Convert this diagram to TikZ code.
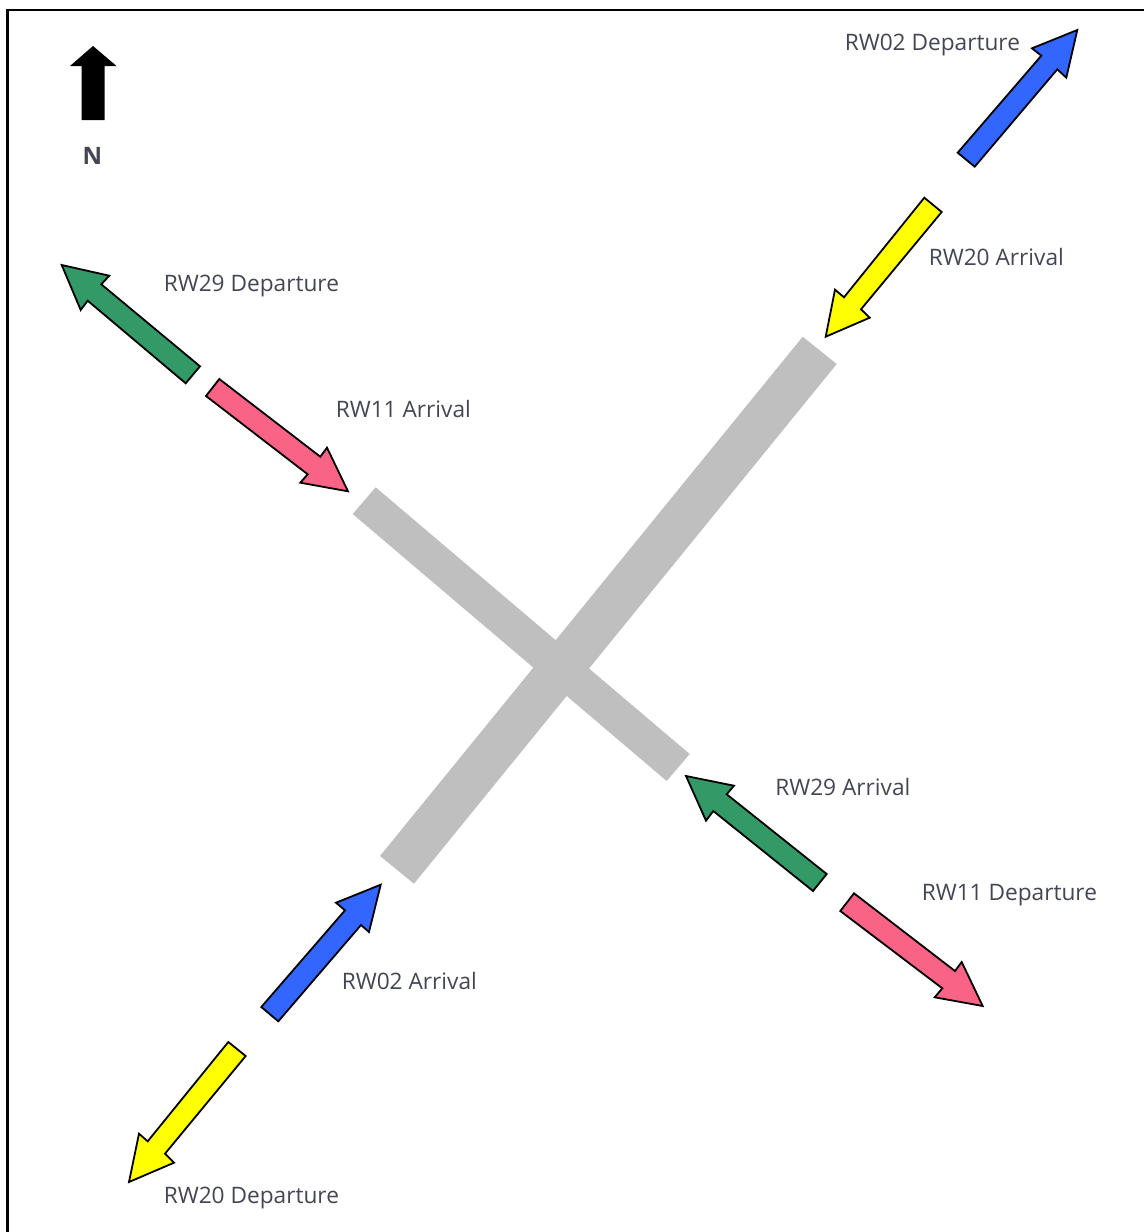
\documentclass[tikz,border=0pt]{standalone}
\usepackage{fontspec}
\setmainfont{Open Sans}
\definecolor{rwgrey}{HTML}{BFBFBF}
\definecolor{txt}{HTML}{444653}
\definecolor{rwblue}{HTML}{3366FF}
\definecolor{rwgreen}{HTML}{339966}
\definecolor{rwpink}{HTML}{F96385}
\definecolor{rwyellow}{HTML}{FFFF00}
\tikzset{
  flowarrow/.style={draw=black,line width=1.35pt,line join=miter,miter limit=10},
  runway/.style={fill=rwgrey,draw=none},
  lbl/.style={anchor=base west,inner sep=0pt,text=txt,font=\fontsize{17pt}{20pt}\selectfont},
}
\begin{document}
\begin{tikzpicture}[x=0.75pt,y=-0.75pt]
\useasboundingbox (0,0) rectangle (1144,1232);
\clip (0,0) rectangle (1144,1232);
\fill[white] (0,0) rectangle (1144,1232);
% frame
\draw[black,line width=1.6pt] (7.5,1240) -- (7.5,10) -- (1150,10);
% runways
\fill[runway] (802.7,336.7) -- (836.7,364) -- (414,883.7) -- (380,856) -- cycle;
\fill[runway] (375.7,487.3) -- (689.7,754) -- (666.7,781) -- (352.7,514) -- cycle;
% north arrow
\fill[black] (93,46) -- (116.5,66) -- (104.5,66) -- (104.5,120) -- (81.5,120) -- (81.5,66) -- (70,66) -- cycle;
\node[anchor=base,inner sep=0pt,text=txt,font=\fontsize{18pt}{20pt}\selectfont\bfseries] (north) at (92.5,164.5) {N};
% blue
\draw[flowarrow,fill=rwblue] (957.7,152.7) -- (1041.3,55.7) -- (1032,48.3) -- (1077.3,30) -- (1066.3,77.7) -- (1057.3,69.3) -- (974.7,166.7) -- cycle;
\draw[flowarrow,fill=rwblue] (261.3,1007) -- (345,910.3) -- (336,902.7) -- (380.7,884.7) -- (369,932) -- (361,925) -- (278.3,1021.3) -- cycle;
% yellow
\draw[flowarrow,fill=rwyellow] (924.3,197.7) -- (941.7,212) -- (861,309.3) -- (869.7,317.7) -- (825.7,336.7) -- (835,289.7) -- (844,297.3) -- cycle;
\draw[flowarrow,fill=rwyellow] (228.3,1042) -- (245.7,1056) -- (165,1153.7) -- (174,1162.7) -- (129,1182) -- (139,1133.7) -- (147.7,1141.3) -- cycle;
% green
\draw[flowarrow,fill=rwgreen] (61.7,265) -- (109.3,275.7) -- (101.3,284.3) -- (200,366.3) -- (185.7,383.3) -- (87.7,300.7) -- (80.7,310) -- cycle;
\draw[flowarrow,fill=rwgreen] (686,776) -- (734,785.7) -- (726.7,794.3) -- (826.7,874) -- (813,891) -- (713.3,811) -- (706,820.7) -- cycle;
% pink
\draw[flowarrow,fill=rwpink] (219.3,379) -- (320.3,456.7) -- (327,447.7) -- (348,491.3) -- (300.3,482.7) -- (307.7,474.3) -- (206,396) -- cycle;
\draw[flowarrow,fill=rwpink] (854,893.3) -- (955,971) -- (961.7,962) -- (982.7,1006) -- (934.7,997.3) -- (942.3,988.3) -- (840.3,911) -- cycle;
% labels
\node[lbl] (l1) at (844.5,50) {RW02 Departure};
\node[lbl] (l2) at (928.5,265) {RW20 Arrival};
\node[lbl] (l3) at (163.5,291) {RW29 Departure};
\node[lbl] (l4) at (335.5,417) {RW11 Arrival};
\node[lbl] (l5) at (775,795) {RW29 Arrival};
\node[lbl] (l6) at (921.5,900) {RW11 Departure};
\node[lbl] (l7) at (341.5,989) {RW02 Arrival};
\node[lbl] (l8) at (163.5,1203) {RW20 Departure};
\end{tikzpicture}
\end{document}
